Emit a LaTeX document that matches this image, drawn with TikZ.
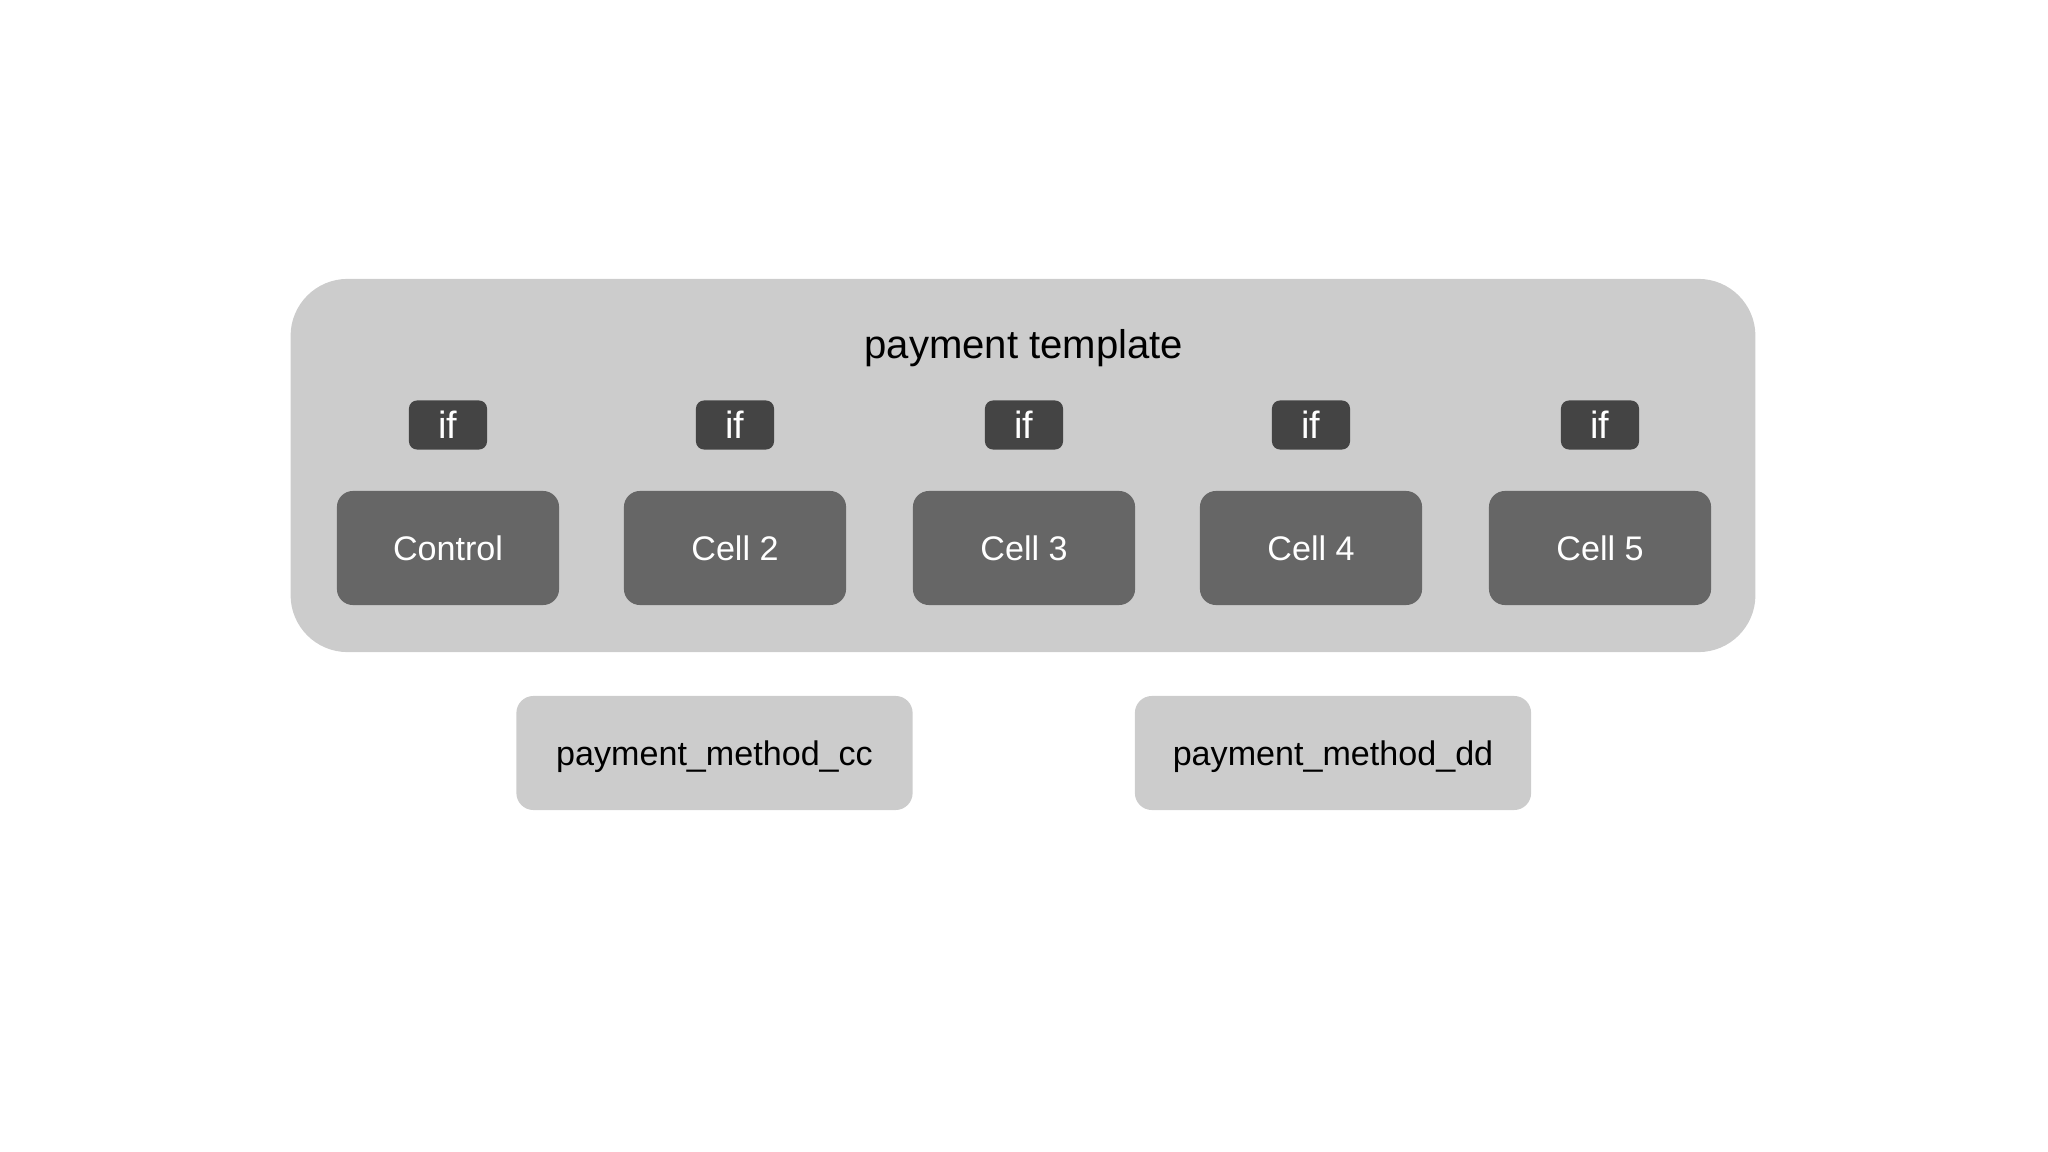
\documentclass[tikz,border=0pt]{standalone}
\usepackage{fontspec}
\setmainfont{Liberation Sans}
\definecolor{outerbg}{HTML}{CCCCCC}
\definecolor{cellfill}{HTML}{666666}
\definecolor{iffill}{HTML}{444444}
\begin{document}
\begin{tikzpicture}[x=0.01cm,y=-0.01cm,
  outerbox/.style={fill=outerbg,draw=none,rounded corners=0.57cm,minimum width=14.64cm,minimum height=3.73cm,inner sep=0pt},
  cellbox/.style={fill=cellfill,draw=none,rounded corners=0.16cm,minimum width=2.22cm,minimum height=1.14cm,inner sep=0pt,text=white,font=\fontsize{9.7pt}{11pt}\selectfont},
  ifbox/.style={fill=iffill,draw=none,rounded corners=0.08cm,minimum width=0.78cm,minimum height=0.49cm,inner sep=0pt,text=white,font=\fontsize{10.8pt}{12pt}\selectfont},
  methodbox/.style={fill=outerbg,draw=none,rounded corners=0.17cm,minimum width=3.96cm,minimum height=1.14cm,inner sep=0pt,text=black,text depth=0pt,font=\fontsize{9.7pt}{11pt}\selectfont},
  titletext/.style={text=black,inner sep=0pt,font=\fontsize{11.4pt}{13pt}\selectfont}]
\useasboundingbox (0,0) rectangle (2048,1152);
\node[outerbox] (outer) at (1023,465.5) {};
\node[titletext] (title) at (1024,348) {payment template};
\node[ifbox] (if1) at (448,425) {if};
\node[ifbox] (if2) at (735,425) {if};
\node[ifbox] (if3) at (1024,425) {if};
\node[ifbox] (if4) at (1311,425) {if};
\node[ifbox] (if5) at (1600,425) {if};
\node[cellbox] (c1) at (448,548) {Control};
\node[cellbox] (c2) at (735,548) {Cell 2};
\node[cellbox] (c3) at (1024,548) {Cell 3};
\node[cellbox] (c4) at (1311,548) {Cell 4};
\node[cellbox] (c5) at (1600,548) {Cell 5};
\node[methodbox] (cc) at (714.5,753) {payment\_method\_cc};
\node[methodbox] (dd) at (1333,753) {payment\_method\_dd};
\end{tikzpicture}
\end{document}
